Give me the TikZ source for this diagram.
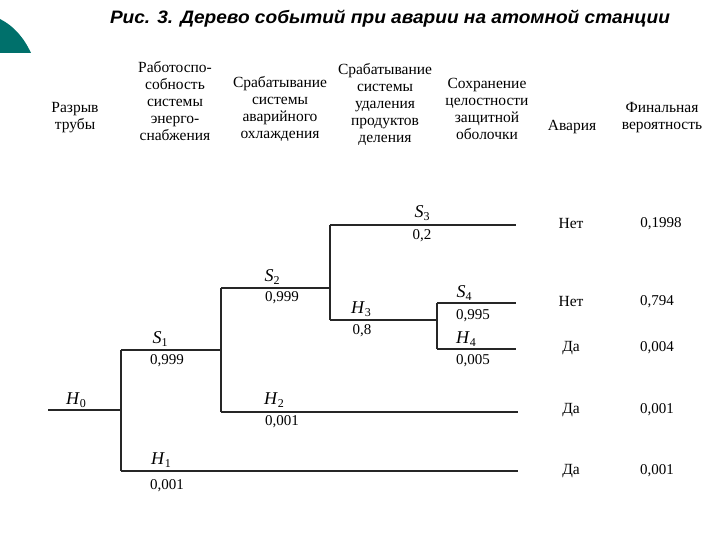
\documentclass[tikz,border=0pt]{standalone}
\usepackage{fontspec}
\setmainfont{Liberation Serif}
\newfontfamily\titlefont[FakeStretch=1.06]{Liberation Sans}
\definecolor{tealc}{HTML}{00706B}
\newcommand{\evlab}[2]{\textit{#1}\raisebox{-3.5pt}{\fontsize{12}{12}\selectfont #2}}
\begin{document}
\begin{tikzpicture}[x=1pt,y=-1pt,
  branch/.style={line width=1.2pt, draw=black!85},
  hdr/.style={align=center, font=\fontsize{15.5}{17}\selectfont, inner sep=0pt},
  ev/.style={font=\fontsize{18}{18}\selectfont, inner sep=0pt},
  prob/.style={font=\fontsize{15}{15}\selectfont, inner sep=0pt},
  res/.style={font=\fontsize{15.5}{15}\selectfont, inner sep=0pt},
  fin/.style={font=\fontsize{15}{15}\selectfont, inner sep=0pt}]
\useasboundingbox (0,0) rectangle (720,540);
% corner decoration
\fill[tealc] (0,19) .. controls (14,26) and (24,38) .. (31,53) -- (0,53) -- cycle;
% title
\node[inner sep=0pt] (title) at (390,19) {\titlefont\bfseries\itshape\fontsize{18}{18}\selectfont Рис. 3. Дерево событий при аварии на атомной станции};
% headers
\node[hdr] (c0) at (75,118) {Разрыв\\трубы};
\node[hdr] (c1) at (175,101) {Работоспо-\\собность\\системы\\энерго-\\снабжения};
\node[hdr] (c2) at (280,109) {Срабатывание\\системы\\аварийного\\охлаждения};
\node[hdr] (c3) at (385,104) {Срабатывание\\системы\\удаления\\продуктов\\деления};
\node[hdr] (c4) at (487,109) {Сохранение\\целостности\\защитной\\оболочки};
\node[hdr] (c5) at (572,127) {Авария};
\node[hdr] (c6) at (662,118) {Финальная\\вероятность};
% coordinates
\coordinate (h0s) at (48,410);
\coordinate (n0) at (121,410);
\coordinate (n0t) at (121,350);
\coordinate (n0b) at (121,471);
\coordinate (n1) at (221,350);
\coordinate (n1t) at (221,288);
\coordinate (n1b) at (221,412);
\coordinate (h2e) at (518,412);
\coordinate (h1e) at (518,471);
\coordinate (n2) at (330,288);
\coordinate (n2t) at (330,225);
\coordinate (n2b) at (330,320);
\coordinate (s3e) at (516,225);
\coordinate (n3) at (437,320);
\coordinate (n3t) at (437,303);
\coordinate (n3b) at (437,349);
\coordinate (s4e) at (516,303);
\coordinate (h4e) at (516,349);
% branches
\draw[branch] (h0s) -- (n0);
\draw[branch] (n0t) -- (n0b);
\draw[branch] (n0t) -- (n1);
\draw[branch] (n0b) -- (h1e);
\draw[branch] (n1t) -- (n1b);
\draw[branch] (n1t) -- (n2);
\draw[branch] (n1b) -- (h2e);
\draw[branch] (n2t) -- (n2b);
\draw[branch] (n2t) -- (s3e);
\draw[branch] (n2b) -- (n3);
\draw[branch] (n3t) -- (n3b);
\draw[branch] (n3t) -- (s4e);
\draw[branch] (n3b) -- (h4e);
% event labels
\node[ev] (lh0) at (76,400) {\evlab{H}{0}};
\node[ev] (ls1) at (160,339) {\evlab{S}{1}};
\node[prob] (ps1) at (167,361) {0,999};
\node[ev] (ls2) at (272,277) {\evlab{S}{2}};
\node[prob] (ps2) at (282,298) {0,999};
\node[ev] (lh2) at (274,400) {\evlab{H}{2}};
\node[prob] (ph2) at (282,422) {0,001};
\node[ev] (lh1) at (161,460) {\evlab{H}{1}};
\node[prob] (ph1) at (167,486) {0,001};
\node[ev] (ls3) at (422,213) {\evlab{S}{3}};
\node[prob] (ps3) at (422,236) {0,2};
\node[ev] (lh3) at (361,309) {\evlab{H}{3}};
\node[prob] (ph3) at (362,331) {0,8};
\node[ev] (ls4) at (464,293) {\evlab{S}{4}};
\node[prob] (ps4) at (473,316) {0,995};
\node[ev] (lh4) at (466,339) {\evlab{H}{4}};
\node[prob] (ph4) at (473,361) {0,005};
% results
\node[res] (r1) at (571,224) {Нет};
\node[fin] (f1) at (661,224) {0,1998};
\node[res] (r2) at (571,302) {Нет};
\node[fin] (f2) at (657,302) {0,794};
\node[res] (r3) at (571,348) {Да};
\node[fin] (f3) at (657,348) {0,004};
\node[res] (r4) at (571,410) {Да};
\node[fin] (f4) at (657,410) {0,001};
\node[res] (r5) at (571,471) {Да};
\node[fin] (f5) at (657,471) {0,001};
\end{tikzpicture}
\end{document}
